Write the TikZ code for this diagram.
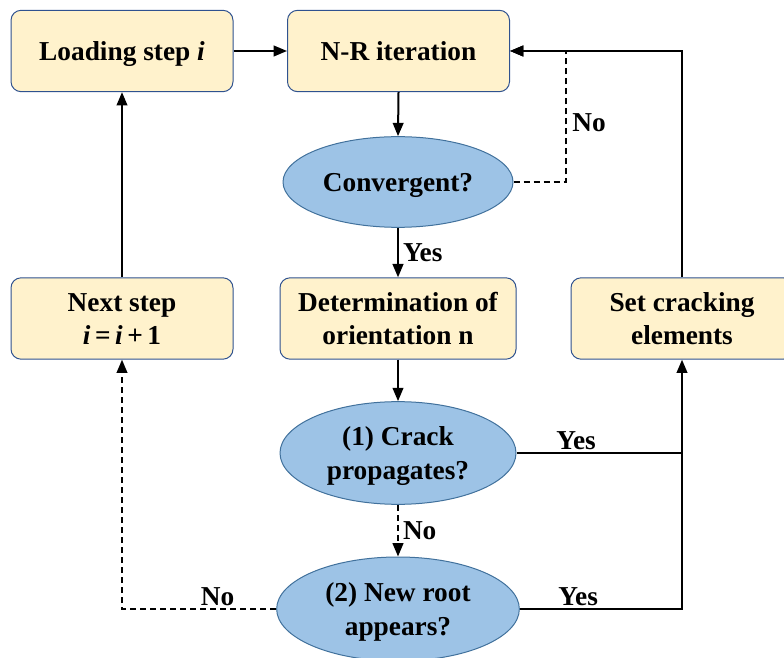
\documentclass[tikz,border=0pt]{standalone}
\usepackage{fontspec}
\setmainfont{Liberation Serif}[BoldFont={Liberation Serif Bold}, BoldItalicFont={Liberation Serif Bold Italic}, ItalicFont={Liberation Serif Italic}]
\usepackage{tikz}
\usetikzlibrary{arrows.meta, shapes.geometric}

\definecolor{boxfill}{HTML}{FFF2CC}
\definecolor{boxline}{HTML}{2F528F}
\definecolor{askfill}{HTML}{9DC3E6}
\definecolor{askline}{HTML}{41719C}

\tikzset{
  stepbox/.style={draw=boxline, fill=boxfill, line width=0.75pt, rounded corners=7.5pt,
    minimum width=166.5pt, minimum height=61pt, align=center, inner sep=2pt},
  askbox/.style={ellipse, draw=askline, fill=askfill, line width=0.75pt, align=center, inner sep=0pt},
  oneline/.style={text height=18.5pt, text depth=4.2pt},
  twoline/.style={text height=43.5pt, text depth=4.2pt},
  flow/.style={line width=1.5pt, -{Triangle[length=10pt, width=8pt]}},
  link/.style={line width=1.5pt},
  nodash/.style={dash pattern=on 4.5pt off 3pt},
}

\begin{document}
\begin{tikzpicture}[x=0.75pt, y=0.75pt, font=\rmfamily\fontsize{20.5}{25}\selectfont\bfseries]
% frame
\clip (0,0) rectangle (784,657);

% draw steps
\node[stepbox, oneline] (load) at (122,606) {Loading step \textit{i}};
\node[stepbox, oneline] (nr) at (398.5,606) {N-R iteration};
\node[stepbox, twoline, minimum width=177pt] (det) at (398,338.5) {Determination of\\orientation n};
\node[stepbox, twoline] (next) at (122,338.5) {Next step\\\textit{i}\,=\,\textit{i}\,+\,1};
\node[stepbox, twoline] (set) at (682,338.5) {Set cracking\\elements};

% draw checks
\node[askbox, oneline, minimum width=172.5pt, minimum height=68pt] (conv) at (398,475) {Convergent?};
\node[askbox, twoline, minimum width=177pt, minimum height=77pt] (crack) at (398,204) {(1) Crack\\propagates?};
\node[askbox, twoline, minimum width=182pt, minimum height=78pt] (root) at (398,48) {(2) New root\\appears?};

% main flow
\draw[flow] (load.east) -- (nr.west);
\draw[flow] (nr.south) -- (conv.north);
\draw[flow] (conv.south) -- node[right, inner sep=3pt] (yes1) {Yes} (det.north);
\draw[flow] (det.south) -- (crack.north);
\draw[flow] (next.north) -- (load.south);

% not converged
\draw[flow, nodash] (conv.east) -- (566,475) -- node[right, pos=0.45, inner sep=4pt] (no1) {No} (566,606) -- (nr.east);

% cracking loop
\draw[flow] (set.north) -- (682,606) -- (nr.east);
\draw[link] (crack.east) -- node[above, pos=0.36, inner sep=2pt] (yes2) {Yes} (682,204);
\draw[flow] (root.east) -- node[above, pos=0.36, inner sep=2pt] (yes3) {Yes} (682,48) -- (set.south);

% no crack
\draw[flow, nodash] (crack.south) -- node[right, inner sep=3pt] (no2) {No} (root.north);
\draw[flow, nodash] (root.west) -- node[above, pos=0.38, inner sep=2pt] (no3) {No} (122,48) -- (next.south);
\end{tikzpicture}
\end{document}
